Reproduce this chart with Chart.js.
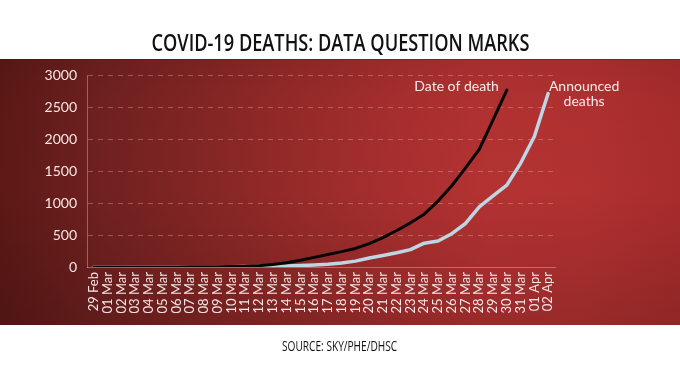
<!DOCTYPE html>
<html>
<head>
<meta charset="utf-8">
<script src="https://cdn.jsdelivr.net/npm/chart.js@4.4.1/dist/chart.umd.min.js"></script>
<style>
html,body{margin:0;padding:0;background:#fff;width:680px;height:382px;overflow:hidden;}
#wrap{position:relative;width:680px;height:382px;}
canvas{position:absolute;left:0;top:0;}
.t{position:absolute;left:0;width:680px;text-align:center;white-space:nowrap;color:#111;font-family:"Open Sans", Roboto, sans-serif;z-index:2;}
.t span{display:inline-block;transform-origin:center center;}
#title{top:27px;font-size:24px;font-weight:600;line-height:30px;}
#source{top:337px;font-size:14px;font-weight:400;line-height:18px;}
</style>
</head>
<body>
<div id="wrap">
  <canvas id="c" width="680" height="382"></canvas>
  <div class="t" id="title"><span>COVID-19 DEATHS: DATA QUESTION MARKS</span></div>
  <div class="t" id="source"><span>SOURCE: SKY/PHE/DHSC</span></div>
</div>
<script>
// ---- data ----
const dayLabels = ['29 Feb','01 Mar','02 Mar','03 Mar','04 Mar','05 Mar','06 Mar','07 Mar','08 Mar','09 Mar',
  '10 Mar','11 Mar','12 Mar','13 Mar','14 Mar','15 Mar','16 Mar','17 Mar','18 Mar','19 Mar',
  '20 Mar','21 Mar','22 Mar','23 Mar','24 Mar','25 Mar','26 Mar','27 Mar','28 Mar','29 Mar',
  '30 Mar','31 Mar','01 Apr','02 Apr'];
const dateOfDeath = [0,0,0,0,0,1,1,2,3,4,6,10,20,40,65,105,150,195,240,290,365,460,570,690,825,1030,1270,1550,1840,2300,2765];
const announcedDeaths = [0,0,0,0,0,1,1,2,2,3,5,6,8,10,15,22,30,42,62,92,140,180,222,272,372,405,520,680,940,1110,1280,1620,2040,2710];
const yTicks = [0,500,1000,1500,2000,2500,3000];
const seriesNames = ['Date of death','Announced deaths'];

function fitWidth(id, target){
  const s=document.querySelector('#'+id+' span');
  const w=s.offsetWidth;
  s.style.transform='scaleX('+(target/w)+')';
}
fitWidth('title',378);
fitWidth('source',115);

const bgPlugin = {
  id:'bg',
  beforeDraw(chart){
    const ctx=chart.ctx, W=chart.width;
    ctx.save();
    ctx.fillStyle='#ffffff';
    ctx.fillRect(0,0,W,chart.height);
    const top=59, bot=325;
    const g=ctx.createLinearGradient(0,0,W,0);
    g.addColorStop(0,'#5c1916');
    g.addColorStop(0.15,'#702120');
    g.addColorStop(0.3,'#842624');
    g.addColorStop(0.45,'#982b2a');
    g.addColorStop(0.6,'#aa2f2f');
    g.addColorStop(0.72,'#b43232');
    g.addColorStop(0.86,'#b23131');
    g.addColorStop(1,'#a82c2c');
    ctx.fillStyle=g;
    ctx.fillRect(0,top,W,bot-top);
    const v=ctx.createLinearGradient(0,top,0,bot);
    v.addColorStop(0,'rgba(0,0,0,0.08)');
    v.addColorStop(0.15,'rgba(0,0,0,0.02)');
    v.addColorStop(0.5,'rgba(0,0,0,0)');
    v.addColorStop(1,'rgba(0,0,0,0.15)');
    ctx.fillStyle=v;
    ctx.fillRect(0,top,W,bot-top);
    ctx.fillStyle='rgba(60,20,20,0.35)';
    ctx.fillRect(0,top,W,1);
    ctx.restore();
  }
};

const labelPlugin = {
  id:'seriesLabels',
  afterDatasetsDraw(chart){
    const ctx=chart.ctx, xs=chart.scales.x, ys=chart.scales.y;
    ctx.save();
    ctx.fillStyle='#f8eaea';
    ctx.font='14px Lato, "Open Sans", sans-serif';
    ctx.textBaseline='middle';
    let i=dateOfDeath.length-1;
    let px=xs.getPixelForValue(i), py=ys.getPixelForValue(dateOfDeath[i]);
    ctx.textAlign='right';
    ctx.fillText(seriesNames[0], px-8, py-4);
    i=announcedDeaths.length-1;
    px=xs.getPixelForValue(i); py=ys.getPixelForValue(announcedDeaths[i]);
    ctx.textAlign='center';
    ctx.fillText('Announced', px+36, py-7);
    ctx.fillText('deaths', px+36, py+8);
    ctx.restore();
  }
};

const faint='rgba(255,205,205,0.38)';
new Chart(document.getElementById('c'), {
  type:'line',
  data:{
    labels:dayLabels,
    datasets:[
      {label:seriesNames[0], data:dateOfDeath, borderColor:'#060606', borderWidth:3, pointRadius:0, tension:0, borderJoinStyle:'round', borderCapStyle:'round', fill:false},
      {label:seriesNames[1], data:announcedDeaths, borderColor:'#bcd6e3', borderWidth:3.5, pointRadius:0, tension:0, borderJoinStyle:'round', borderCapStyle:'round', fill:false}
    ]
  },
  options:{
    responsive:false, animation:false, devicePixelRatio:1,
    layout:{padding:{top:75,right:125,left:0,bottom:0}},
    plugins:{legend:{display:false}, tooltip:{enabled:false}, title:{display:false}},
    scales:{
      x:{
        offset:true,
        grid:{display:false, drawTicks:false},
        border:{display:true, color:faint, width:1},
        ticks:{color:'#f6e6e6', font:{family:'Lato', size:13}, maxRotation:90, minRotation:90, autoSkip:false, padding:5},
        afterFit(s){ s.height=115; }
      },
      y:{
        min:0, max:3000,
        afterBuildTicks(s){ s.ticks = yTicks.map(v=>({value:v})); },
        grid:{color:(c)=> (c.tick && c.tick.value===0) ? 'rgba(0,0,0,0)' : 'rgba(255,195,195,0.33)', drawTicks:false, lineWidth:1},
        border:{display:true, color:faint, width:1, dash:[5,5]},
        ticks:{color:'#f6e6e6', font:{family:'Lato', size:14}, padding:10, callback:(v)=>String(v)},
        afterFit(s){ s.width=87; }
      }
    }
  },
  plugins:[bgPlugin, labelPlugin]
});
</script>
</body>
</html>
